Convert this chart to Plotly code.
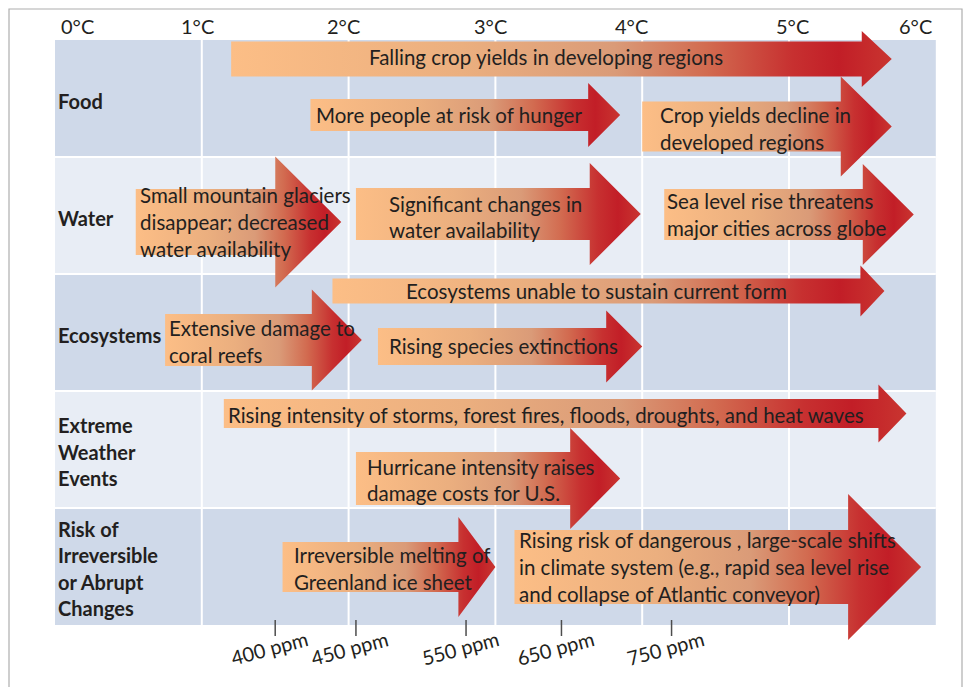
import plotly.graph_objects as go

# ---------------------------------------------------------------------------
# Data
# ---------------------------------------------------------------------------
temp_ticks = [0, 1, 2, 3, 4, 5, 6]
temp_labels = ["0°C", "1°C", "2°C", "3°C", "4°C", "5°C", "6°C"]

categories = [
    ["Food"],
    ["Water"],
    ["Ecosystems"],
    ["Extreme", "Weather", "Events"],
    ["Risk of", "Irreversible", "or Abrupt", "Changes"],
]

impact_text = [
    ["Falling crop yields in developing regions"],
    ["More people at risk of hunger"],
    ["Crop yields decline in", "developed regions"],
    ["Small mountain glaciers", "disappear; decreased", "water availability"],
    ["Significant changes in", "water availability"],
    ["Sea level rise threatens", "major cities across globe"],
    ["Ecosystems unable to sustain current form"],
    ["Extensive damage to", "coral reefs"],
    ["Rising species extinctions"],
    ["Rising intensity of storms, forest fires, floods, droughts, and heat waves"],
    ["Hurricane intensity raises", "damage costs for U.S."],
    ["Irreversible melting of", "Greenland ice sheet"],
    ["Rising risk of dangerous , large-scale shifts",
     "in climate system (e.g., rapid sea level rise",
     "and collapse of Atlantic conveyor)"],
]
impact_row = [0, 0, 0, 1, 1, 1, 2, 2, 2, 3, 3, 4, 4]
impact_from = [1.20, 1.74, 4.00, 0.55, 2.05, 4.15, 1.89, 0.75, 2.20, 1.15, 2.05, 1.55, 3.13]
impact_to = [5.70, 3.85, 5.70, 1.95, 3.99, 5.85, 5.65, 2.09, 4.00, 5.80, 3.85, 3.00, 5.90]

ppm_labels = ["400 ppm", "450 ppm", "550 ppm", "650 ppm", "750 ppm"]
ppm_temp = [1.50, 2.05, 2.80, 3.45, 4.20]

# ---------------------------------------------------------------------------
# Geometry / styling (pixels)
# ---------------------------------------------------------------------------
W, H = 967, 687
X0_PX, Y0_PX = 55, 40          # left edge (0 °C) and top edge of the table
PX_PER_DEG = 146.8
PX_PER_ROW = 117.0


def dx(px):
    return px / PX_PER_DEG


def dy(px):
    return px / PX_PER_ROW


# lane centre within the row, body half-height, head half-height, head length
arrow_lane = [19, 75, 86.5, 65, 57, 57.5, 17, 66, 72.5, 22.5, 87.5, 59, 59]
arrow_body = [17.5, 16, 25, 33, 26, 25.5, 12.5, 26, 18.5, 14.5, 26.5, 25, 37]
arrow_head = [28, 32, 50, 65.5, 51, 50.5, 25.5, 50.5, 36, 29, 50.5, 50, 73]
arrow_head_len = [30, 32, 51, 66, 51, 51, 24, 50, 36, 28, 50, 37, 73]
# text placement: "c" = centred on body, otherwise left inset in px
text_inset = ["c", "c", 16, 2, 31, 1, "c", 2, 9, 2, 9, 9, 3]
text_shift = [-2, 0, 2, 0, 3, 0, 0, 1.5, -1, 1.5, 1.5, 1.5, 0]

LINE_PX = 26.6
FONT = "Lato, 'Open Sans', sans-serif"
TEXT_SIZE = 20.5
LABEL_SIZE = 20
TEXT_COLOR = "#231F20"
ROW_DARK = "#CFD9E9"
ROW_LIGHT = "#E8EDF5"

ARROW_SCALE = [
    [0.00, "#FCBE86"],
    [0.35, "#EBAF7F"],
    [0.58, "#DA9B78"],
    [0.72, "#D26B50"],
    [0.85, "#C73030"],
    [0.92, "#C21E27"],
    [1.00, "#C93530"],
]

fig = go.Figure()

# ---------------------------------------------------------------------------
# Table background, gridlines
# ---------------------------------------------------------------------------
shapes = []
for r in range(len(categories)):
    shapes.append(dict(type="rect", xref="x", yref="y", x0=0, x1=6, y0=r, y1=r + 1,
                       fillcolor=ROW_DARK if r % 2 == 0 else ROW_LIGHT,
                       line=dict(width=0), layer="below"))
for t in temp_ticks[1:-1]:
    shapes.append(dict(type="line", xref="x", yref="y", x0=t, x1=t, y0=0, y1=len(categories),
                       line=dict(color="white", width=2), layer="below"))
for r in range(1, len(categories)):
    shapes.append(dict(type="line", xref="x", yref="y", x0=0, x1=6, y0=r, y1=r,
                       line=dict(color="white", width=2), layer="below"))

# outer frame
shapes.append(dict(type="rect", xref="paper", yref="paper",
                   x0=9 / W, x1=962 / W, y0=-0.05, y1=1 - 9 / H,
                   line=dict(color="#AEAEAE", width=1.2), fillcolor="rgba(0,0,0,0)"))

# CO2 concentration ticks along the bottom edge
for t in ppm_temp:
    shapes.append(dict(type="line", xref="x", yref="y", x0=t, x1=t,
                       y0=dy(620 - Y0_PX), y1=dy(636 - Y0_PX),
                       line=dict(color="#4D4D4D", width=1.5)))

annotations = []

# ---------------------------------------------------------------------------
# Arrows
# ---------------------------------------------------------------------------
for i, lines in enumerate(impact_text):
    x_start, x_tip = impact_from[i], impact_to[i]
    x_base = x_tip - dx(arrow_head_len[i])
    yc = impact_row[i] + dy(arrow_lane[i])
    b, h = dy(arrow_body[i]), dy(arrow_head[i])
    xs = [x_start, x_base, x_base, x_tip, x_base, x_base, x_start, x_start]
    ys = [yc - b, yc - b, yc - h, yc, yc + h, yc + b, yc + b, yc - b]
    fig.add_trace(go.Scatter(
        x=xs, y=ys, mode="lines", fill="toself",
        line=dict(width=0, color="rgba(0,0,0,0)"),
        fillgradient=dict(type="horizontal", colorscale=ARROW_SCALE,
                          start=x_start, stop=x_tip),
        hoverinfo="skip", showlegend=False,
    ))

    n = len(lines)
    y_mid = yc + dy(text_shift[i])
    for k, line in enumerate(lines):
        y_line = y_mid + dy((k - (n - 1) / 2) * LINE_PX)
        if text_inset[i] == "c":
            x_txt, anchor = (x_start + x_base) / 2, "center"
        else:
            x_txt, anchor = x_start + dx(text_inset[i]), "left"
        annotations.append(dict(x=x_txt, y=y_line, xref="x", yref="y", text=line,
                                showarrow=False, xanchor=anchor, yanchor="middle",
                                font=dict(family=FONT, size=TEXT_SIZE, color=TEXT_COLOR)))

# ---------------------------------------------------------------------------
# Row labels
# ---------------------------------------------------------------------------
for r, lines in enumerate(categories):
    n = len(lines)
    for k, line in enumerate(lines):
        y_line = r + 0.5 + dy(2 + (k - (n - 1) / 2) * LINE_PX)
        annotations.append(dict(x=dx(1), y=y_line, xref="x", yref="y",
                                text="<b>" + line + "</b>", showarrow=False,
                                xanchor="left", yanchor="middle",
                                font=dict(family=FONT, size=LABEL_SIZE, color=TEXT_COLOR)))

# ---------------------------------------------------------------------------
# Temperature header
# ---------------------------------------------------------------------------
header_nudge_px = [22, -4, -5, -5, -11, 3, -20]
for t, lab, nudge in zip(temp_ticks, temp_labels, header_nudge_px):
    annotations.append(dict(x=t + dx(nudge), y=dy(26 - Y0_PX), xref="x", yref="y",
                            text=lab, showarrow=False, xanchor="center", yanchor="middle",
                            font=dict(family=FONT, size=20, color=TEXT_COLOR)))

# ---------------------------------------------------------------------------
# ppm labels
# ---------------------------------------------------------------------------
for t, lab in zip(ppm_temp, ppm_labels):
    annotations.append(dict(x=t - dx(6), y=dy(648 - Y0_PX), xref="x", yref="y",
                            text=lab, showarrow=False, textangle=-15,
                            xanchor="center", yanchor="middle",
                            font=dict(family=FONT, size=20, color=TEXT_COLOR)))

fig.update_layout(
    width=W, height=H,
    margin=dict(l=0, r=0, t=0, b=0),
    paper_bgcolor="white", plot_bgcolor="white",
    shapes=shapes, annotations=annotations,
    xaxis=dict(range=[-dx(X0_PX), dx(W - X0_PX)], visible=False, fixedrange=True),
    yaxis=dict(range=[dy(H - Y0_PX), -dy(Y0_PX)], visible=False, fixedrange=True),
    showlegend=False,
)

fig.write_html("out.html", config={"displayModeBar": False})
